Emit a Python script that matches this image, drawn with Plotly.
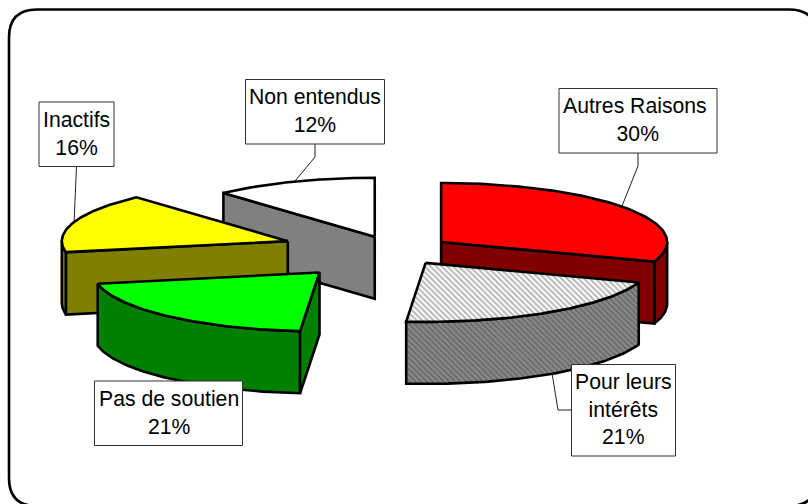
import numpy as np
import plotly.graph_objects as go

# Data
categories = ["Autres Raisons", "Pour leurs intérêts", "Pas de soutien", "Inactifs", "Non entendus"]
values = [30.4, 20.97, 20.55, 16.4, 11.68]
label_lines = [["Autres Raisons\u00a0"], ["Pour leurs", "intérêts"], ["Pas de soutien"], ["Inactifs"], ["Non entendus"]]
explosions = [0.25, 0.25, 0.5, 0.5, 0.25]
top_colors = ["#FF0000", "#FFFFFF", "#00FF00", "#FFFF00", "#FFFFFF"]
side_colors = ["#800000", "#808080", "#008000", "#808000", "#808080"]
hatched = [False, True, False, False, False]
draw_order = [4, 3, 2, 0, 1]

# Layout geometry (page pixels)
W, H = 808, 504
CX, CY, RX, RY, DEPTH = 395, 250.5, 226, 59, 62
EDGE = 2.6
boxes = [(559, 717, 88.5, 153), (571.5, 675.5, 364.5, 456), (94.5, 242.5, 381, 445.5),
         (39, 114, 102, 166.5), (245.5, 384.5, 79.5, 144)]
leaders = [([638, 638, 622], [153, 166, 206]), ([571, 558, 552], [410, 410, 373]),
           ([], []), ([76.5, 74], [166, 224]), ([315, 315, 295], [144, 157, 181])]

fig = go.Figure()


def face(xs, ys, color, pattern=None):
    kw = {}
    if pattern:
        kw["fillpattern"] = dict(shape="\\", size=4, solidity=0.5, bgcolor=pattern[0], fgcolor=pattern[1])
    fig.add_trace(go.Scatter(x=xs, y=ys, mode="lines", fill="toself", fillcolor=color,
                             line=dict(color="black", width=EDGE), hoverinfo="skip", showlegend=False, **kw))


for lx, ly in leaders:
    if lx:
        fig.add_trace(go.Scatter(x=lx, y=ly, mode="lines", line=dict(color="#202020", width=1),
                                 hoverinfo="skip", showlegend=False))

total = sum(values)
edges = np.concatenate([[0], np.cumsum(values)]) / total * 360.0

for i in draw_order:
    a0, a1 = edges[i], edges[i + 1]
    mid = np.radians((a0 + a1) / 2)
    px = CX + explosions[i] * RX * np.sin(mid)
    py = CY - explosions[i] * RY * np.cos(mid)

    def pt(deg):
        r = np.radians(deg)
        return px + RX * np.sin(r), py - RY * np.cos(r)

    side_pat = ("#8C8C8C", "#484848") if hatched[i] else None
    top_pat = ("#FFFFFF", "#707070") if hatched[i] else None

    # outer rim: the front half of the ellipse only
    r0, r1 = max(a0, 90), min(a1, 270)
    if r1 > r0:
        t = np.linspace(r0, r1, 80)
        ax, ay = pt(t)
        face(list(ax) + list(ax[::-1]) + [ax[0]], list(ay) + list(ay[::-1] + DEPTH) + [ay[0]],
             side_colors[i], side_pat)
    # cut faces
    for ang, visible in ((a0, 180 < a0 < 360), (a1, 0 < a1 < 180)):
        if visible:
            ex, ey = pt(ang)
            face([px, ex, ex, px, px], [py, ey, ey + DEPTH, py + DEPTH, py], side_colors[i], side_pat)
    # top
    t = np.linspace(a0, a1, 120)
    ax, ay = pt(t)
    face([px] + list(ax) + [px], [py] + list(ay) + [py], top_colors[i], top_pat)

annotations = []
shapes = []
fx0, fx1, fy0, fy1, r = 9, 817, 9.5, 506, 28
frame = (f"M {fx0 + r} {fy0} L {fx1 - r} {fy0} Q {fx1} {fy0} {fx1} {fy0 + r} L {fx1} {fy1 - r} "
         f"Q {fx1} {fy1} {fx1 - r} {fy1} L {fx0 + r} {fy1} Q {fx0} {fy1} {fx0} {fy1 - r} "
         f"L {fx0} {fy0 + r} Q {fx0} {fy0} {fx0 + r} {fy0} Z")
shapes.append(dict(type="path", path=frame, xref="x", yref="y", line=dict(color="black", width=2.6), layer="below"))

for i, (x0, x1, y0, y1) in enumerate(boxes):
    shapes.append(dict(type="rect", x0=x0, x1=x1, y0=y0, y1=y1, xref="x", yref="y", layer="above",
                       fillcolor="white", line=dict(color="#303030", width=1)))
    text = "<br>".join(label_lines[i] + [f"{round(values[i] / total * 100)}%"])
    annotations.append(dict(x=(x0 + x1) / 2, y=(y0 + y1) / 2 - 0.8, xref="x", yref="y", text=text,
                            showarrow=False, align="center", xanchor="center", yanchor="middle",
                            font=dict(family="Liberation Sans", size=21.2, color="black")))

fig.update_layout(
    width=W, height=H, margin=dict(l=0, r=0, t=0, b=0),
    paper_bgcolor="white", plot_bgcolor="white", showlegend=False,
    xaxis=dict(range=[0, W], visible=False, fixedrange=True),
    yaxis=dict(range=[H, 0], visible=False, fixedrange=True),
    annotations=annotations,
    shapes=shapes,
)
fig.write_html("out.html", config={"displayModeBar": False},
               post_script="document.body.style.margin='0';document.body.style.overflow='hidden';")
